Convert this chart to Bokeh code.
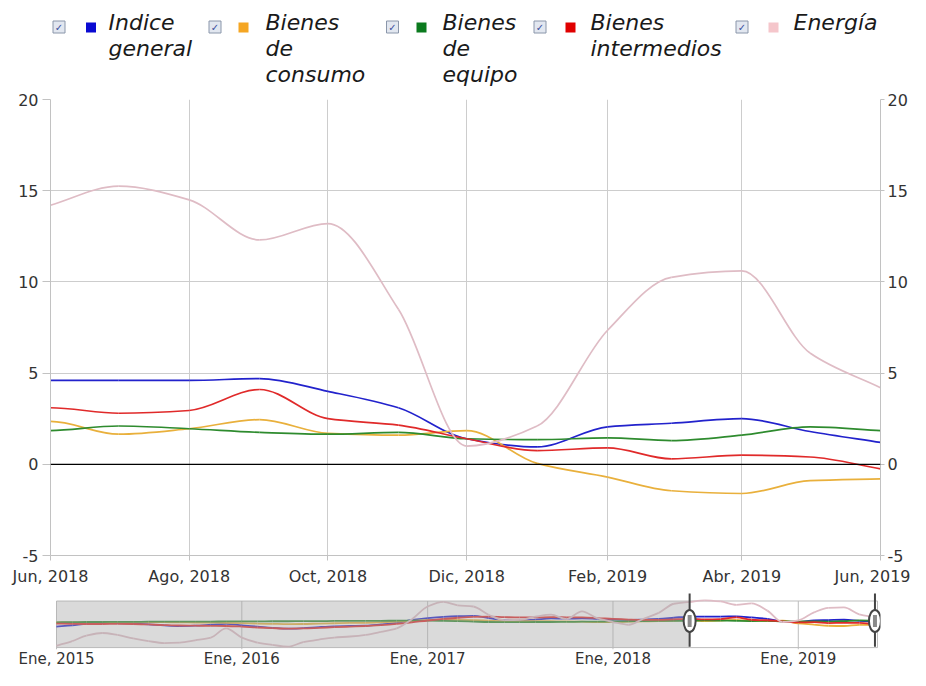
from datetime import datetime
from bokeh.plotting import figure
from bokeh.models import (Range1d, LinearAxis, FixedTicker, CustomJSTickFormatter,
                          Span, ColumnDataSource)
from bokeh.layouts import column
from bokeh.core.properties import value
from bokeh.embed import file_html
from bokeh.resources import INLINE

# ---------------- data ----------------
MESES = ["Ene", "Feb", "Mar", "Abr", "May", "Jun", "Jul", "Ago", "Sep", "Oct", "Nov", "Dic"]
MONTHS = [f"{2015 + i // 12}-{i % 12 + 1:02d}" for i in range(54)]  # 2015-01 .. 2019-06

INDICE_GENERAL = [
    -2.0, -1.2, -0.2, 0.3, 0.3, 0.0, -0.5, -1.2, -1.6, -1.4, -0.8, -0.2,
    -1.2, -2.0, -2.8, -3.4, -3.0, -2.3, -1.8, -1.6, -1.4, -0.6, 0.4, 2.4,
    3.6, 4.4, 4.8, 5.0, 3.6, 2.2, 2.0, 2.6, 3.4, 3.2, 3.4, 3.0,
    2.6, 2.4, 2.6, 3.0, 3.8, 4.6, 4.6, 4.6, 4.7, 4.0, 3.1, 1.4,
    0.95, 2.05, 2.25, 2.5, 1.8, 1.2]
BIENES_CONSUMO = [
    0.8, 0.7, 0.8, 0.9, 1.0, 1.1, 1.0, 0.9, 0.8, 0.7, 0.6, 0.5,
    0.3, 0.0, -0.2, -0.4, -0.3, 0.0, 0.2, 0.4, 0.5, 0.8, 1.2, 1.8,
    2.2, 2.5, 2.4, 2.2, 1.9, 1.6, 1.5, 1.6, 1.5, 1.4, 1.2, 1.0,
    1.0, 1.2, 1.4, 1.6, 2.0, 2.35, 1.65, 1.95, 2.45, 1.7, 1.6, 1.85,
    0.05, -0.7, -1.45, -1.6, -0.9, -0.8]
BIENES_EQUIPO = [
    0.8, 0.9, 1.0, 1.0, 1.1, 1.1, 1.2, 1.2, 1.2, 1.3, 1.3, 1.4,
    1.4, 1.4, 1.5, 1.5, 1.6, 1.6, 1.7, 1.7, 1.8, 1.8, 1.9, 1.9,
    1.9, 1.8, 1.6, 1.3, 1.0, 0.9, 0.9, 1.0, 1.0, 1.1, 1.2, 1.3,
    1.4, 1.5, 1.6, 1.7, 1.8, 1.85, 2.1, 1.95, 1.75, 1.65, 1.75, 1.4,
    1.35, 1.45, 1.3, 1.6, 2.05, 1.85]
BIENES_INTERMEDIOS = [
    0.0, -0.2, -0.3, -0.3, -0.2, -0.3, -0.6, -1.0, -1.3, -1.4, -1.5, -1.6,
    -2.0, -2.6, -3.0, -3.3, -3.2, -2.8, -2.4, -2.0, -1.6, -1.0, -0.2, 0.8,
    2.0, 3.0, 3.8, 4.4, 4.5, 4.2, 4.0, 4.0, 4.2, 4.1, 4.0, 3.6,
    3.0, 2.6, 2.4, 2.4, 2.8, 3.1, 2.8, 2.95, 4.1, 2.5, 2.15, 1.4,
    0.75, 0.9, 0.3, 0.5, 0.4, -0.25]
ENERGIA = [
    -14.6, -11.5, -8.0, -6.2, -7.5, -9.8, -11.5, -12.8, -12.5, -11.0, -9.2, -3.2,
    -9.2, -12.5, -14.0, -15.2, -12.2, -10.5, -9.2, -8.5, -7.4, -5.5, -3.2, 2.8,
    11.2, 14.2, 12.0, 11.2, 5.8, 2.2, 2.5, 4.5, 5.8, 3.0, 8.0, 3.5,
    1.0, -0.8, 3.0, 7.0, 13.0, 14.2, 15.25, 14.5, 12.3, 13.2, 8.5, 1.0,
    2.1, 7.35, 10.25, 10.6, 6.1, 4.2]

SERIES_NAMES = ["Indice general", "Bienes de consumo", "Bienes de equipo",
                "Bienes intermedios", "Energía"]
SERIES = [INDICE_GENERAL, BIENES_CONSUMO, BIENES_EQUIPO, BIENES_INTERMEDIOS, ENERGIA]

MAIN_TICKS = ["2018-06", "2018-08", "2018-10", "2018-12", "2019-02", "2019-04", "2019-06"]
NAV_TICKS = ["2015-01", "2016-01", "2017-01", "2018-01", "2019-01"]
Y_TICKS = [-5, 0, 5, 10, 15, 20]
VIEW_START, VIEW_END = "2018-06", "2019-06"

# ---------------- styles ----------------
LINE_COLORS = ["#2222cc", "#e9b03c", "#2e8b2e", "#e02a2a", "#dfbcc5"]
KEY_COLORS = ["#0a0ad2", "#f5a623", "#0b7a1e", "#e00000", "#f5c6cb"]
FONT = "DejaVu Sans"
GRID = "#cdcdcd"
AXIS = "#c2c2c2"
TXT = "#333333"
W = 910
FL, FR = 50, 880          # common frame left / right (canvas px)


def ms(s):
    y, m = map(int, s.split("-"))
    return (datetime(y, m, 1) - datetime(1970, 1, 1)).total_seconds() * 1000.0


XS = [ms(m) for m in MONTHS]


def bezier_source(xs, ys):
    """Monotone cubic (Fritsch-Butland) curve through the data, as bezier segments."""
    n = len(xs)
    h = [xs[i + 1] - xs[i] for i in range(n - 1)]
    dl = [(ys[i + 1] - ys[i]) / h[i] for i in range(n - 1)]
    m = [0.0] * n
    m[0], m[-1] = dl[0], dl[-1]
    for k in range(1, n - 1):
        if dl[k - 1] * dl[k] <= 0:
            m[k] = 0.0
        else:
            m[k] = 3 * (h[k - 1] + h[k]) / ((2 * h[k] + h[k - 1]) / dl[k - 1]
                                            + (h[k] + 2 * h[k - 1]) / dl[k])
    d = {k: [] for k in ("x0", "y0", "x1", "y1", "cx0", "cy0", "cx1", "cy1")}
    for i in range(n - 1):
        d["x0"].append(xs[i]); d["y0"].append(ys[i])
        d["x1"].append(xs[i + 1]); d["y1"].append(ys[i + 1])
        d["cx0"].append(xs[i] + h[i] / 3.0)
        d["cy0"].append(ys[i] + m[i] * h[i] / 3.0)
        d["cx1"].append(xs[i + 1] - h[i] / 3.0)
        d["cy1"].append(ys[i + 1] - m[i + 1] * h[i] / 3.0)
    return ColumnDataSource(d)


FMT_CODE = "const d = new Date(tick); return meses[d.getUTCMonth()] + ', ' + d.getUTCFullYear();"

# ---------------- legend ----------------
leg = figure(width=W, height=88, x_range=Range1d(FL, FR), y_range=Range1d(88, 0),
             toolbar_location=None, output_backend="svg",
             min_border_left=FL, min_border_right=W - FR, min_border_top=0, min_border_bottom=0,
             x_axis_location=None, y_axis_location=None, outline_line_color=None)
leg.grid.visible = False
CB_X = [58.5, 214.5, 392, 539.5, 741.5]
SQ_X = [90.5, 243, 421, 570, 773]
TX_X = [108, 265, 442, 590, 793]
BASE = [22.2, 47.9, 73.6]
leg.rect(x=CB_X, y=[26.5] * 5, width=12, height=12, fill_color="#e2e7f0",
         line_color="#8a96aa", line_width=1)
leg.text(x=CB_X, y=[26.8] * 5, text=["✓"] * 5, text_font=value(FONT),
         text_font_size="10px", text_color="#3a4f9e", text_align="center",
         text_baseline="middle", text_font_style="bold")
leg.rect(x=SQ_X, y=[27] * 5, width=10, height=10, fill_color=KEY_COLORS, line_color=None)
tx, ty, tt = [], [], []
for name, x0 in zip(SERIES_NAMES, TX_X):
    for j, word in enumerate(name.split(" ")):
        tx.append(x0); ty.append(BASE[j]); tt.append(word)
leg.text(x=tx, y=ty, text=tt, text_font=value(FONT), text_font_size="22px",
         text_font_style="italic", text_color="#1a1a1a", text_align="left",
         text_baseline="alphabetic")

# ---------------- main chart ----------------
p = figure(width=W, height=502, x_axis_type="datetime",
           x_range=Range1d(ms(VIEW_START), ms(VIEW_END)), y_range=Range1d(-5, 20),
           toolbar_location=None, output_backend="svg",
           min_border_left=FL, min_border_right=W - FR, min_border_top=11, min_border_bottom=35,
           outline_line_color=None)
right = LinearAxis()
p.add_layout(right, "right")
for ax, tout, std in ((p.yaxis[0], 8, 4), (right, 4, 3)):
    ax.ticker = FixedTicker(ticks=Y_TICKS)
    ax.formatter = CustomJSTickFormatter(code="return tick.toString();")
    ax.major_label_text_font = FONT
    ax.major_label_text_font_size = "16px"
    ax.major_label_text_color = TXT
    ax.axis_line_color = AXIS
    ax.major_tick_line_color = AXIS
    ax.major_tick_out = tout
    ax.major_tick_in = 0
    ax.minor_tick_line_color = None
    ax.major_label_standoff = std
xt = [ms(t) for t in MAIN_TICKS]
xa = p.xaxis[0]
xa.ticker = FixedTicker(ticks=xt)
xa.formatter = CustomJSTickFormatter(args=dict(meses=MESES), code=FMT_CODE)
xa.major_label_text_font = FONT
xa.major_label_text_font_size = "16px"
xa.major_label_text_color = TXT
xa.axis_line_color = AXIS
xa.major_tick_line_color = AXIS
xa.major_tick_out = 5
xa.major_tick_in = 0
xa.minor_tick_line_color = None
xa.major_label_standoff = 6
p.xgrid.ticker = FixedTicker(ticks=xt)
p.ygrid.ticker = FixedTicker(ticks=Y_TICKS)
p.grid.grid_line_color = GRID
p.add_layout(Span(location=0, dimension="width", line_color="black", line_width=1.2))
for ys, c in zip(SERIES, LINE_COLORS):
    p.bezier(x0="x0", y0="y0", x1="x1", y1="y1", cx0="cx0", cy0="cy0", cx1="cx1",
             cy1="cy1", source=bezier_source(XS, ys), line_color=c, line_width=1.7)

# ---------------- navigator ----------------
NAV_HI, NAV_LO = 14.8, -15.8      # value span of the navigator box
NAV_UPP = (NAV_HI - NAV_LO) / 49.0  # value units per pixel (box 49 px tall)
DAY = 86400000.0
box_l = ms(MONTHS[0])
box_r = ms(MONTHS[-1]) + 5 * DAY
upx = (box_r - box_l) / (877.0 - 56.0)   # ms per pixel
nav = figure(width=W, height=80, x_axis_type="datetime",
             x_range=Range1d(box_l - (56 - FL) * upx, box_r + (FR - 877) * upx),
             y_range=Range1d(NAV_LO - 2 * NAV_UPP, NAV_HI + 10 * NAV_UPP),
             toolbar_location=None, output_backend="svg",
             min_border_left=FL, min_border_right=W - FR, min_border_top=1, min_border_bottom=18,
             y_axis_location=None, outline_line_color=None)
nav.grid.visible = False
nav.quad(left=[box_l], right=[box_r], bottom=[NAV_LO], top=[NAV_HI],
         fill_color="white", line_color="#bdbdbd", line_width=1)
nt = [ms(t) for t in NAV_TICKS]
nav.segment(x0=nt, x1=nt, y0=[NAV_LO - 2 * NAV_UPP] * len(nt), y1=[NAV_HI] * len(nt),
            line_color="#bdbdbd", line_width=1)
for ys, c in zip(SERIES, LINE_COLORS):
    nav.bezier(x0="x0", y0="y0", x1="x1", y1="y1", cx0="cx0", cy0="cy0", cx1="cx1",
               cy1="cy1", source=bezier_source(XS, ys), line_color=c, line_width=1.8)
sel_l, sel_r = ms(VIEW_START), ms(VIEW_END)
nav.quad(left=[box_l], right=[sel_l], bottom=[NAV_LO], top=[NAV_HI],
         fill_color="#a6a6a6", fill_alpha=0.42, line_color=None)
nav.segment(x0=[sel_l, sel_r], x1=[sel_l, sel_r],
            y0=[NAV_LO + 1 * NAV_UPP] * 2, y1=[NAV_HI + 8 * NAV_UPP] * 2,
            line_color="#444444", line_width=2)
hy = NAV_HI - 21 * NAV_UPP
nav.ellipse(x=[sel_l, sel_r], y=[hy, hy], width=12, height=22, width_units="screen",
            height_units="screen", fill_color="white", line_color="#444444", line_width=2)
nav.rect(x=[sel_l, sel_r], y=[hy, hy], width=4, height=12, width_units="screen",
         height_units="screen", fill_color="#8a8a8a", line_color=None)
na = nav.xaxis[0]
na.ticker = FixedTicker(ticks=nt)
na.formatter = CustomJSTickFormatter(args=dict(meses=MESES), code=FMT_CODE)
na.major_label_text_font = FONT
na.major_label_text_font_size = "15px"
na.major_label_text_color = TXT
na.axis_line_color = None
na.major_tick_line_color = None
na.minor_tick_line_color = None
na.major_tick_out = 0
na.major_tick_in = 0
na.major_label_standoff = 0

layout = column(leg, p, nav)
open("out.html", "w").write(file_html(layout, INLINE))
